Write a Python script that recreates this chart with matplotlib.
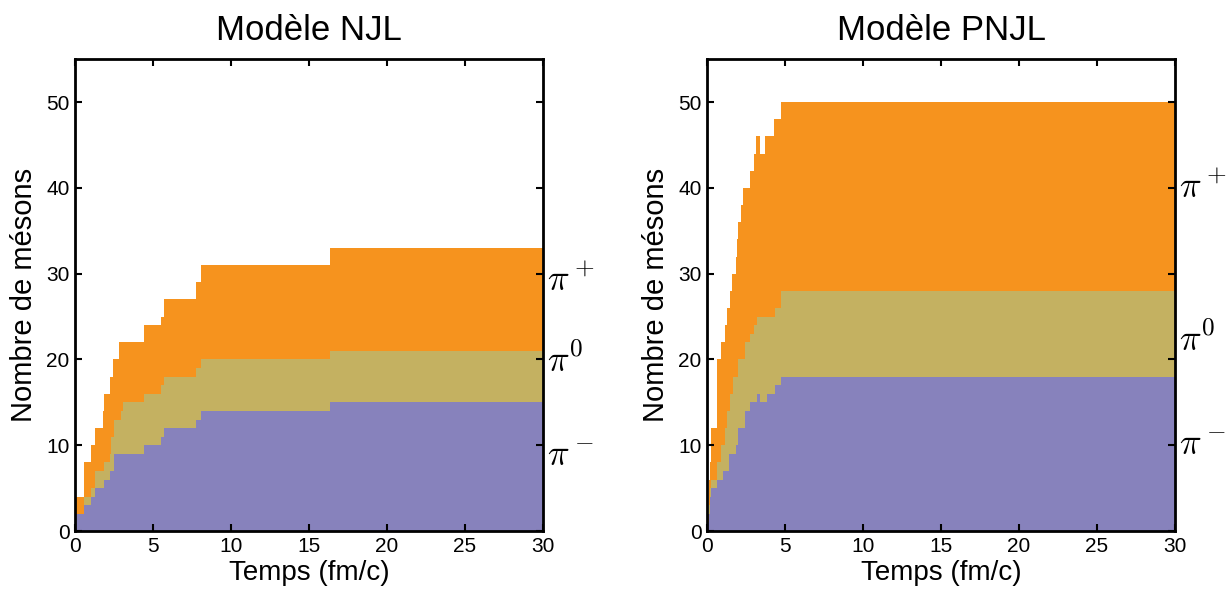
import numpy as np
import matplotlib
matplotlib.use("Agg")
import matplotlib.pyplot as plt

plt.rcParams["font.family"] = ["Liberation Sans", "DejaVu Sans"]
plt.rcParams["mathtext.fontset"] = "cm"

# ---------------------------
# Données : nombre de mésons produits en fonction du temps (fm/c)
# ---------------------------
t_njl = [0.0, 0.55, 1.0, 1.28, 1.8, 1.88, 2.25, 2.33, 2.45, 2.5, 2.82, 2.95,
         3.05, 4.4, 5.5, 5.7, 7.75, 8.05, 16.35]
pim_njl = [2, 3, 4, 5, 5, 6, 7, 7, 7, 9, 9, 9, 9, 10, 11, 12, 13, 14, 15]
pi0_njl = [0, 1, 1, 2, 2, 2, 2, 4, 4, 4, 4, 5, 6, 6, 6, 6, 6, 6, 6]
pip_njl = [2, 4, 5, 5, 7, 8, 9, 7, 9, 7, 9, 8, 7, 8, 8, 9, 10, 11, 12]

t_pnjl = [0.0, 0.12, 0.2, 0.28, 0.62, 0.66, 0.92, 1.0, 1.15, 1.3, 1.41, 1.47,
          1.62, 1.69, 1.84, 1.94, 2.0, 2.2, 2.33, 2.44, 2.76, 3.03, 3.14,
          3.23, 3.38, 3.72, 3.83, 4.29, 4.36, 4.72]
pim_pnjl = [1, 2, 4, 5, 6, 6, 6, 7, 7, 7, 9, 9, 9, 9, 10, 10, 12, 12, 12, 14,
            15, 15, 15, 16, 15, 15, 16, 16, 17, 18]
pi0_pnjl = [0, 1, 1, 1, 2, 2, 4, 3, 5, 7, 5, 7, 7, 9, 8, 8, 8, 8, 8, 8, 8, 9,
            9, 9, 10, 10, 9, 9, 9, 10]
pip_pnjl = [1, 3, 3, 6, 4, 12, 12, 12, 12, 12, 12, 12, 14, 12, 14, 16, 16, 18,
            20, 18, 19, 20, 22, 21, 19, 21, 21, 23, 22, 22]

t_max = 30
colors = ["#8782bc", "#c4b161", "#f6931e"]
labels = [r"$\pi^-$", r"$\pi^0$", r"$\pi^+$"]
label_y = {"njl": [8.7, 19.8, 29.2], "pnjl": [10, 22.3, 40]}


def draw(ax, t, species, title, ly):
    t = np.append(t, t_max)
    bottom = np.zeros(len(t))
    for vals, col in zip(species, colors):
        v = np.append(vals, vals[-1]).astype(float)
        ax.fill_between(t, bottom, bottom + v, step="post", color=col, lw=0)
        bottom = bottom + v

    for lab, y in zip(labels, ly):
        ax.text(30.25, y, lab, fontsize=26, va="center", ha="left",
                clip_on=False)

    ax.set_xlim(0, 30)
    ax.set_ylim(0, 55)
    ax.set_xticks(range(0, 31, 5))
    ax.set_yticks(range(0, 51, 10))
    ax.tick_params(direction="in", length=5, width=1.5, labelsize=15,
                   top=True, right=True, pad=4)
    for s in ax.spines.values():
        s.set_linewidth(2)
    ax.set_title(title, fontsize=25, pad=14)
    ax.set_xlabel("Temps (fm/c)", fontsize=20, labelpad=3)
    ax.set_ylabel("Nombre de mésons", fontsize=21, labelpad=6)


fig = plt.figure(figsize=(12.3, 5.92), dpi=100)
ax1 = fig.add_axes([0.061, 0.103, 0.3805, 0.797])
ax2 = fig.add_axes([0.5748, 0.103, 0.3805, 0.797])

draw(ax1, t_njl, [pim_njl, pi0_njl, pip_njl], "Modèle NJL", label_y["njl"])
draw(ax2, t_pnjl, [pim_pnjl, pi0_pnjl, pip_pnjl], "Modèle PNJL", label_y["pnjl"])

fig.savefig("out.png", dpi=100)
